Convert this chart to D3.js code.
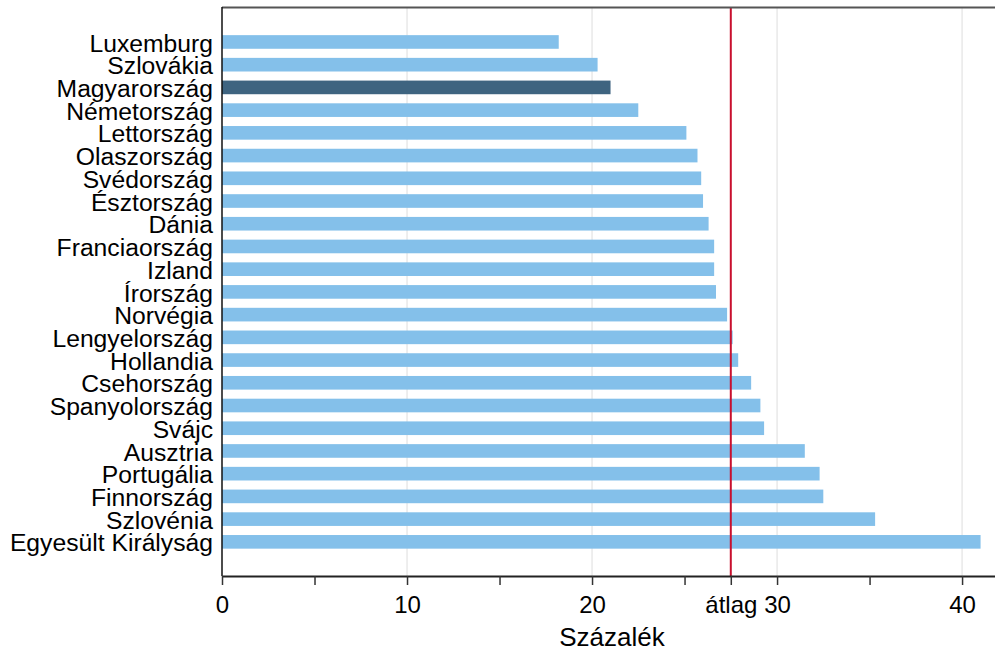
<!DOCTYPE html>
<html>
<head>
<meta charset="utf-8">
<script src="https://cdn.jsdelivr.net/npm/d3@7"></script>
<style>
  html, body { margin: 0; padding: 0; background: #fff; }
  svg { display: block; font-family: "Liberation Sans", Arial, sans-serif; }
</style>
</head>
<body>
<svg id="chart" width="995" height="654"></svg>
<script>
const countries = ["Luxemburg","Szlovákia","Magyarország","Németország","Lettország","Olaszország","Svédország","Észtország","Dánia","Franciaország","Izland","Írország","Norvégia","Lengyelország","Hollandia","Csehország","Spanyolország","Svájc","Ausztria","Portugália","Finnország","Szlovénia","Egyesült Királyság"];
const values = [18.2, 20.3, 21.0, 22.5, 25.1, 25.7, 25.9, 26.0, 26.3, 26.6, 26.6, 26.7, 27.3, 27.6, 27.9, 28.6, 29.1, 29.3, 31.5, 32.3, 32.5, 35.3, 41.0];
const highlight = "Magyarország";
const average = 27.5;
const averageLabel = "átlag";
const gridTicks = [10, 20, 30, 40];
const labelTicks = [0, 10, 20, 30, 40];
const minorTicks = [0, 5, 10, 15, 20, 25, 30, 35, 40];
const xTitle = "Százalék";

const svg = d3.select("#chart");
const mLeft = 222, mRight = 995, mTop = 7, mBottom = 576;

const x = d3.scaleLinear().domain([0, 41.78]).range([mLeft, mRight]);
const y = d3.scaleBand().domain(countries).range([30.6, 553.2]).paddingInner(0.4).paddingOuter(0.2);

// grid lines
svg.append("g").selectAll("line").data(gridTicks).join("line")
  .attr("x1", d => x(d)).attr("x2", d => x(d))
  .attr("y1", mTop).attr("y2", mBottom)
  .attr("stroke", "#dddddd").attr("stroke-width", 1);

// bars
svg.append("g").selectAll("rect").data(countries).join("rect")
  .attr("x", x(0))
  .attr("y", d => y(d))
  .attr("width", (d, i) => x(values[i]) - x(0))
  .attr("height", y.bandwidth())
  .attr("fill", d => d === highlight ? "#3e6480" : "#84c0ea");

// average line
svg.append("line")
  .attr("x1", x(average)).attr("x2", x(average))
  .attr("y1", mTop).attr("y2", mBottom)
  .attr("stroke", "#c8102e").attr("stroke-width", 2);

// top border
svg.append("line")
  .attr("x1", mLeft).attr("x2", mRight)
  .attr("y1", mTop + 0.5).attr("y2", mTop + 0.5)
  .attr("stroke", "#555").attr("stroke-width", 2);

// x axis
const xAxis = d3.axisBottom(x)
  .tickValues(minorTicks.concat([average]))
  .tickSize(9)
  .tickSizeOuter(0)
  .tickFormat(d => d === average ? averageLabel : (labelTicks.includes(d) ? d : ""));
const gx = svg.append("g").attr("transform", `translate(0,${mBottom})`).call(xAxis);
gx.select(".domain").attr("stroke", "#222").attr("stroke-width", 2);
gx.selectAll(".tick line").attr("stroke", "#333").attr("stroke-width", 1.5);
gx.selectAll(".tick text").attr("font-size", 24).attr("fill", "#000")
  .attr("font-family", "'Liberation Sans', Arial, sans-serif").attr("y", 20).attr("dy", "0.71em");

// y axis line
svg.append("line")
  .attr("x1", mLeft).attr("x2", mLeft)
  .attr("y1", mTop).attr("y2", mBottom)
  .attr("stroke", "#111").attr("stroke-width", 1.5);

// y labels
svg.append("g").selectAll("text").data(countries).join("text")
  .attr("x", 213)
  .attr("y", d => y(d) + y.bandwidth() / 2)
  .attr("dy", "0.39em")
  .attr("text-anchor", "end")
  .attr("font-size", 24.7)
  .attr("fill", "#000")
  .text(d => d);

// x title
svg.append("text")
  .attr("x", 612).attr("y", 646)
  .attr("text-anchor", "middle")
  .attr("font-size", 26)
  .attr("fill", "#000")
  .text(xTitle);
</script>
</body>
</html>
